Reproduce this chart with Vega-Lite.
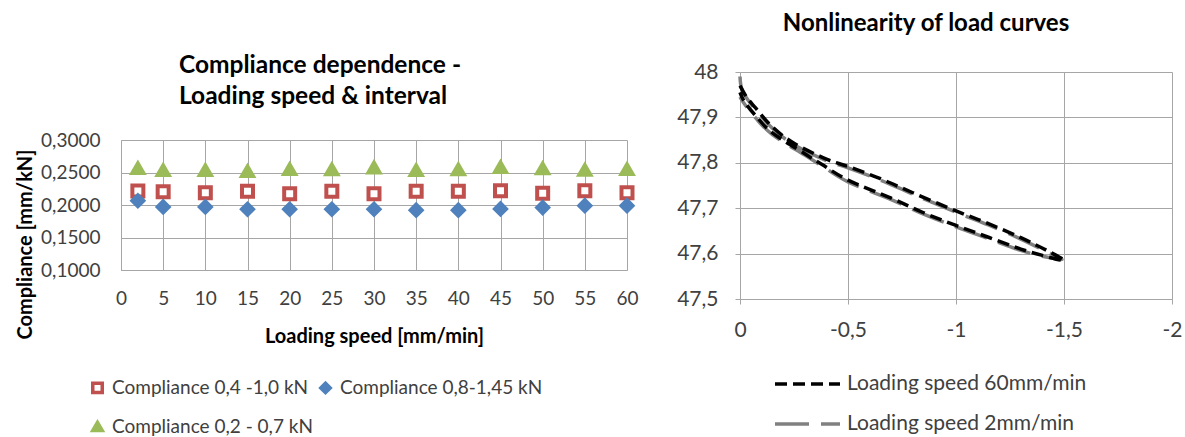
{
  "$schema": "https://vega.github.io/schema/vega-lite/v6.json",
  "padding": {"left": 15, "top": 12, "right": 0, "bottom": 0},
  "config": {
    "font": "Lato",
    "view": {"stroke": null},
    "axis": {"gridColor": "#a6a6a6", "domainColor": "#a6a6a6", "tickColor": "#a6a6a6", "labelColor": "#404040", "titleColor": "#000000", "labelFont": "Lato", "titleFont": "Lato", "titleFontWeight": "bold", "labelFlush": false, "labelOverlap": false},
    "title": {"font": "Lato", "fontWeight": "bold", "color": "#000000"},
    "legend": {"labelFont": "Lato", "labelColor": "#404040", "labelLimit": 500}
  },
  "datasets": {
    "compliance": [
      {"speed": 2, "series": "Compliance 0,4 -1,0 kN", "compliance": 0.2215},
      {"speed": 5, "series": "Compliance 0,4 -1,0 kN", "compliance": 0.2205},
      {"speed": 10, "series": "Compliance 0,4 -1,0 kN", "compliance": 0.219},
      {"speed": 15, "series": "Compliance 0,4 -1,0 kN", "compliance": 0.221},
      {"speed": 20, "series": "Compliance 0,4 -1,0 kN", "compliance": 0.2175},
      {"speed": 25, "series": "Compliance 0,4 -1,0 kN", "compliance": 0.221},
      {"speed": 30, "series": "Compliance 0,4 -1,0 kN", "compliance": 0.2175},
      {"speed": 35, "series": "Compliance 0,4 -1,0 kN", "compliance": 0.221},
      {"speed": 40, "series": "Compliance 0,4 -1,0 kN", "compliance": 0.221},
      {"speed": 45, "series": "Compliance 0,4 -1,0 kN", "compliance": 0.222},
      {"speed": 50, "series": "Compliance 0,4 -1,0 kN", "compliance": 0.218},
      {"speed": 55, "series": "Compliance 0,4 -1,0 kN", "compliance": 0.222},
      {"speed": 60, "series": "Compliance 0,4 -1,0 kN", "compliance": 0.219},
      {"speed": 2, "series": "Compliance 0,8-1,45 kN", "compliance": 0.2065},
      {"speed": 5, "series": "Compliance 0,8-1,45 kN", "compliance": 0.197},
      {"speed": 10, "series": "Compliance 0,8-1,45 kN", "compliance": 0.197},
      {"speed": 15, "series": "Compliance 0,8-1,45 kN", "compliance": 0.1935},
      {"speed": 20, "series": "Compliance 0,8-1,45 kN", "compliance": 0.1935},
      {"speed": 25, "series": "Compliance 0,8-1,45 kN", "compliance": 0.1935},
      {"speed": 30, "series": "Compliance 0,8-1,45 kN", "compliance": 0.1935},
      {"speed": 35, "series": "Compliance 0,8-1,45 kN", "compliance": 0.192},
      {"speed": 40, "series": "Compliance 0,8-1,45 kN", "compliance": 0.192},
      {"speed": 45, "series": "Compliance 0,8-1,45 kN", "compliance": 0.194},
      {"speed": 50, "series": "Compliance 0,8-1,45 kN", "compliance": 0.196},
      {"speed": 55, "series": "Compliance 0,8-1,45 kN", "compliance": 0.199},
      {"speed": 60, "series": "Compliance 0,8-1,45 kN", "compliance": 0.199},
      {"speed": 2, "series": "Compliance 0,2 - 0,7 kN", "compliance": 0.2565},
      {"speed": 5, "series": "Compliance 0,2 - 0,7 kN", "compliance": 0.2535},
      {"speed": 10, "series": "Compliance 0,2 - 0,7 kN", "compliance": 0.2535},
      {"speed": 15, "series": "Compliance 0,2 - 0,7 kN", "compliance": 0.252},
      {"speed": 20, "series": "Compliance 0,2 - 0,7 kN", "compliance": 0.255},
      {"speed": 25, "series": "Compliance 0,2 - 0,7 kN", "compliance": 0.2545},
      {"speed": 30, "series": "Compliance 0,2 - 0,7 kN", "compliance": 0.2575},
      {"speed": 35, "series": "Compliance 0,2 - 0,7 kN", "compliance": 0.2535},
      {"speed": 40, "series": "Compliance 0,2 - 0,7 kN", "compliance": 0.2545},
      {"speed": 45, "series": "Compliance 0,2 - 0,7 kN", "compliance": 0.258},
      {"speed": 50, "series": "Compliance 0,2 - 0,7 kN", "compliance": 0.256},
      {"speed": 55, "series": "Compliance 0,2 - 0,7 kN", "compliance": 0.254},
      {"speed": 60, "series": "Compliance 0,2 - 0,7 kN", "compliance": 0.255}
    ],
    "curves": [
      {"series": "Loading speed 2mm/min", "i": 0, "x": 0, "y": 47.99},
      {"series": "Loading speed 2mm/min", "i": 1, "x": -0.01, "y": 47.96},
      {"series": "Loading speed 2mm/min", "i": 2, "x": -0.05, "y": 47.93},
      {"series": "Loading speed 2mm/min", "i": 3, "x": -0.15, "y": 47.876},
      {"series": "Loading speed 2mm/min", "i": 4, "x": -0.25, "y": 47.84},
      {"series": "Loading speed 2mm/min", "i": 5, "x": -0.4, "y": 47.805},
      {"series": "Loading speed 2mm/min", "i": 6, "x": -0.5, "y": 47.789},
      {"series": "Loading speed 2mm/min", "i": 7, "x": -0.65, "y": 47.762},
      {"series": "Loading speed 2mm/min", "i": 8, "x": -0.8, "y": 47.731},
      {"series": "Loading speed 2mm/min", "i": 9, "x": -1.0, "y": 47.691},
      {"series": "Loading speed 2mm/min", "i": 10, "x": -1.15, "y": 47.663},
      {"series": "Loading speed 2mm/min", "i": 11, "x": -1.3, "y": 47.632},
      {"series": "Loading speed 2mm/min", "i": 12, "x": -1.42, "y": 47.604},
      {"series": "Loading speed 2mm/min", "i": 13, "x": -1.49, "y": 47.587},
      {"series": "Loading speed 2mm/min", "i": 14, "x": -1.4, "y": 47.594},
      {"series": "Loading speed 2mm/min", "i": 15, "x": -1.3, "y": 47.607},
      {"series": "Loading speed 2mm/min", "i": 16, "x": -1.15, "y": 47.633},
      {"series": "Loading speed 2mm/min", "i": 17, "x": -1.0, "y": 47.659},
      {"series": "Loading speed 2mm/min", "i": 18, "x": -0.85, "y": 47.687},
      {"series": "Loading speed 2mm/min", "i": 19, "x": -0.7, "y": 47.719},
      {"series": "Loading speed 2mm/min", "i": 20, "x": -0.5, "y": 47.758},
      {"series": "Loading speed 2mm/min", "i": 21, "x": -0.38, "y": 47.793},
      {"series": "Loading speed 2mm/min", "i": 22, "x": -0.3, "y": 47.817},
      {"series": "Loading speed 2mm/min", "i": 23, "x": -0.15, "y": 47.862},
      {"series": "Loading speed 2mm/min", "i": 24, "x": -0.07, "y": 47.9},
      {"series": "Loading speed 2mm/min", "i": 25, "x": -0.02, "y": 47.93},
      {"series": "Loading speed 2mm/min", "i": 26, "x": 0, "y": 47.945},
      {"series": "Loading speed 60mm/min", "i": 0, "x": 0, "y": 47.97},
      {"series": "Loading speed 60mm/min", "i": 1, "x": -0.03, "y": 47.945},
      {"series": "Loading speed 60mm/min", "i": 2, "x": -0.07, "y": 47.922},
      {"series": "Loading speed 60mm/min", "i": 3, "x": -0.15, "y": 47.879},
      {"series": "Loading speed 60mm/min", "i": 4, "x": -0.25, "y": 47.843},
      {"series": "Loading speed 60mm/min", "i": 5, "x": -0.4, "y": 47.808},
      {"series": "Loading speed 60mm/min", "i": 6, "x": -0.5, "y": 47.792},
      {"series": "Loading speed 60mm/min", "i": 7, "x": -0.65, "y": 47.765},
      {"series": "Loading speed 60mm/min", "i": 8, "x": -0.8, "y": 47.734},
      {"series": "Loading speed 60mm/min", "i": 9, "x": -1.0, "y": 47.694},
      {"series": "Loading speed 60mm/min", "i": 10, "x": -1.15, "y": 47.666},
      {"series": "Loading speed 60mm/min", "i": 11, "x": -1.3, "y": 47.635},
      {"series": "Loading speed 60mm/min", "i": 12, "x": -1.42, "y": 47.607},
      {"series": "Loading speed 60mm/min", "i": 13, "x": -1.5, "y": 47.585},
      {"series": "Loading speed 60mm/min", "i": 14, "x": -1.4, "y": 47.596},
      {"series": "Loading speed 60mm/min", "i": 15, "x": -1.3, "y": 47.61},
      {"series": "Loading speed 60mm/min", "i": 16, "x": -1.15, "y": 47.636},
      {"series": "Loading speed 60mm/min", "i": 17, "x": -1.0, "y": 47.662},
      {"series": "Loading speed 60mm/min", "i": 18, "x": -0.85, "y": 47.69},
      {"series": "Loading speed 60mm/min", "i": 19, "x": -0.7, "y": 47.722},
      {"series": "Loading speed 60mm/min", "i": 20, "x": -0.5, "y": 47.762},
      {"series": "Loading speed 60mm/min", "i": 21, "x": -0.38, "y": 47.796},
      {"series": "Loading speed 60mm/min", "i": 22, "x": -0.3, "y": 47.82},
      {"series": "Loading speed 60mm/min", "i": 23, "x": -0.15, "y": 47.866},
      {"series": "Loading speed 60mm/min", "i": 24, "x": -0.07, "y": 47.905},
      {"series": "Loading speed 60mm/min", "i": 25, "x": -0.02, "y": 47.935},
      {"series": "Loading speed 60mm/min", "i": 26, "x": 0, "y": 47.955}
    ]
  },
  "spacing": 35,
  "resolve": {
    "scale": {"color": "independent", "stroke": "independent", "fill": "independent", "shape": "independent", "strokeDash": "independent"},
    "legend": {"color": "independent", "stroke": "independent", "fill": "independent", "shape": "independent", "strokeDash": "independent"}
  },
  "hconcat": [
    {
      "spacing": -26,
      "resolve": {
        "scale": {"color": "independent", "stroke": "independent", "fill": "independent", "shape": "independent", "strokeDash": "independent"},
        "legend": {"color": "independent", "stroke": "independent", "fill": "independent", "shape": "independent", "strokeDash": "independent"}
      },
      "vconcat": [
        {
          "width": 506,
          "height": 1,
          "data": {"values": [{}]},
          "mark": {"type": "text"},
          "encoding": {"text": {"value": ""}}
        },
        {
          "width": 506,
          "height": 130,
          "data": {"name": "compliance"},
          "title": {"text": ["Compliance dependence -", "Loading speed & interval"], "fontSize": 24.5, "lineHeight": 31, "offset": 22, "anchor": "start", "frame": "group", "align": "left", "dx": 58},
          "mark": {"type": "point", "opacity": 1, "strokeJoin": "miter", "strokeWidth": 4, "size": 121},
          "encoding": {
            "x": {"field": "speed", "type": "quantitative", "scale": {"domain": [0, 60], "nice": false, "zero": false},
              "axis": {"values": [0, 5, 10, 15, 20, 25, 30, 35, 40, 45, 50, 55, 60], "ticks": false, "labelPadding": 19, "labelFontSize": 19, "title": "Loading speed [mm/min]", "titleFontSize": 20, "titlePadding": 18}},
            "y": {"field": "compliance", "type": "quantitative", "scale": {"domain": [0.1, 0.3], "nice": false, "zero": false},
              "axis": {"values": [0.1, 0.15, 0.2, 0.25, 0.3], "labelExpr": "replace(format(datum.value, '.4f'), '.', ',')", "ticks": false, "labelPadding": 21, "labelFontSize": 19, "title": "Compliance [mm/kN]", "titleFontSize": 20, "titlePadding": 5, "titleY": 104}},
            "shape": {"field": "series", "type": "nominal",
              "scale": {"domain": ["Compliance 0,4 -1,0 kN", "Compliance 0,8-1,45 kN", "Compliance 0,2 - 0,7 kN"], "range": ["square", "diamond", "triangle-up"]},
              "legend": {"orient": "none", "legendX": -33, "legendY": 238, "direction": "horizontal", "columns": 2, "title": null, "labelFontSize": 19, "symbolSize": 90, "symbolStrokeWidth": 3.5, "rowPadding": 15, "columnPadding": 0, "labelOffset": 5, "padding": 0}},
            "fill": {"field": "series", "type": "nominal",
              "scale": {"domain": ["Compliance 0,4 -1,0 kN", "Compliance 0,8-1,45 kN", "Compliance 0,2 - 0,7 kN"], "range": ["#ffffff", "#4F81BD", "#9BBB59"]},
              "legend": {"orient": "none", "legendX": -33, "legendY": 238, "direction": "horizontal", "columns": 2, "title": null, "labelFontSize": 19, "symbolSize": 90, "symbolStrokeWidth": 3.5, "rowPadding": 15, "columnPadding": 0, "labelOffset": 5, "padding": 0}},
            "stroke": {"field": "series", "type": "nominal",
              "scale": {"domain": ["Compliance 0,4 -1,0 kN", "Compliance 0,8-1,45 kN", "Compliance 0,2 - 0,7 kN"], "range": ["#C0504D", "#4F81BD", "#9BBB59"]},
              "legend": {"orient": "none", "legendX": -33, "legendY": 238, "direction": "horizontal", "columns": 2, "title": null, "labelFontSize": 19, "symbolSize": 90, "symbolStrokeWidth": 3.5, "rowPadding": 15, "columnPadding": 0, "labelOffset": 5, "padding": 0}}
          }
        }
      ]
    },
    {
      "width": 432,
      "height": 227,
      "data": {"name": "curves"},
      "title": {"text": "Nonlinearity of load curves", "fontSize": 24, "offset": 25, "dx": -30},
      "mark": {"type": "line", "strokeWidth": 3.5, "interpolate": "cardinal"},
      "encoding": {
        "x": {"field": "x", "type": "quantitative", "scale": {"domain": [0, -2], "nice": false, "zero": false},
          "axis": {"values": [0, -0.5, -1, -1.5, -2], "labelExpr": "replace(toString(datum.value), '.', ',')", "tickSize": 5, "labelPadding": 15, "labelFontSize": 21, "title": null}},
        "y": {"field": "y", "type": "quantitative", "scale": {"domain": [47.5, 48], "nice": false, "zero": false},
          "axis": {"values": [47.5, 47.6, 47.7, 47.8, 47.9, 48], "labelExpr": "replace(toString(datum.value), '.', ',')", "tickSize": 5, "labelPadding": 17, "labelFontSize": 21, "title": null}},
        "color": {"field": "series", "type": "nominal",
          "scale": {"domain": ["Loading speed 60mm/min", "Loading speed 2mm/min"], "range": ["#000000", "#808080"]},
          "legend": {"orient": "none", "legendX": 33, "legendY": 301, "direction": "vertical", "title": null, "labelFontSize": 21, "symbolType": "stroke", "symbolSize": 4225, "symbolStrokeWidth": 3.5, "clipHeight": 22, "rowPadding": 18, "labelOffset": 5, "padding": 0}},
        "strokeDash": {"field": "series", "type": "nominal",
          "scale": {"domain": ["Loading speed 60mm/min", "Loading speed 2mm/min"], "range": [[12, 6], [34, 12]]},
          "legend": {"orient": "none", "legendX": 33, "legendY": 301, "direction": "vertical", "title": null, "labelFontSize": 21, "symbolType": "stroke", "symbolSize": 4225, "symbolStrokeWidth": 3.5, "clipHeight": 22, "rowPadding": 18, "labelOffset": 5, "padding": 0}},
        "order": {"field": "i", "type": "quantitative"}
      }
    }
  ]
}
